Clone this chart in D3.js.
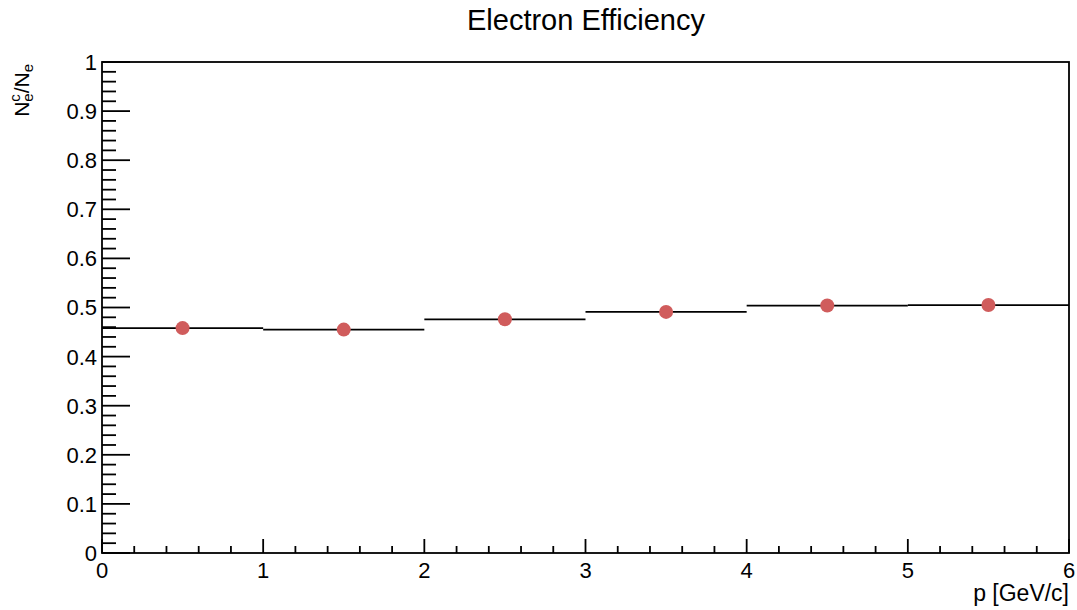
<!DOCTYPE html>
<html>
<head>
<meta charset="utf-8">
<script src="https://cdn.jsdelivr.net/npm/d3@7"></script>
<style>
  html, body { margin: 0; padding: 0; background: #fff; }
  svg { display: block; font-family: "Liberation Sans", Arial, Helvetica, sans-serif; }
</style>
</head>
<body>
<svg id="chart" width="1077" height="610"></svg>
<script>
// Momentum bins (GeV/c) and the electron efficiency measured in each
const binEdges = [0, 1, 2, 3, 4, 5, 6];
const binCenters = [0.5, 1.5, 2.5, 3.5, 4.5, 5.5];
const efficiency = [0.458, 0.455, 0.476, 0.491, 0.504, 0.505];

const xTickValues = [0, 1, 2, 3, 4, 5, 6];
const yTickValues = [0, 0.1, 0.2, 0.3, 0.4, 0.5, 0.6, 0.7, 0.8, 0.9, 1];

const titleText = "Electron Efficiency";
const xTitle = "p [GeV/c]";

const frame = { left: 102, right: 1069, top: 62, bottom: 553 };
const markerColor = "#d05c5c";

const svg = d3.select("#chart");

const x = d3.scaleLinear().domain([0, 6]).range([frame.left, frame.right]);
const y = d3.scaleLinear().domain([0, 1]).range([frame.bottom, frame.top]);

// Minor ticks
const xMinor = d3.range(0, 6.0001, 0.2).filter(v => Math.abs(v - Math.round(v)) > 1e-6);
const yMinor = d3.range(0, 1.0001, 0.02).filter(v => Math.abs(v * 10 - Math.round(v * 10)) > 1e-6);

const axisG = svg.append("g").attr("stroke", "#000").attr("stroke-width", 1.8).attr("fill", "none");

// Frame box
axisG.append("rect")
  .attr("x", frame.left).attr("y", frame.top)
  .attr("width", frame.right - frame.left).attr("height", frame.bottom - frame.top);

// X ticks (pointing up into the plot)
axisG.selectAll(".xmaj").data(xTickValues).join("line")
  .attr("x1", d => x(d)).attr("x2", d => x(d))
  .attr("y1", frame.bottom).attr("y2", frame.bottom - 14);
axisG.selectAll(".xmin").data(xMinor).join("line")
  .attr("x1", d => x(d)).attr("x2", d => x(d))
  .attr("y1", frame.bottom).attr("y2", frame.bottom - 7);

// Y ticks (pointing right into the plot)
axisG.selectAll(".ymaj").data(yTickValues).join("line")
  .attr("x1", frame.left).attr("x2", frame.left + 28)
  .attr("y1", d => y(d)).attr("y2", d => y(d));
axisG.selectAll(".ymin").data(yMinor).join("line")
  .attr("x1", frame.left).attr("x2", frame.left + 14)
  .attr("y1", d => y(d)).attr("y2", d => y(d));

// Tick labels
svg.append("g").selectAll("text").data(xTickValues).join("text")
  .attr("x", d => x(d)).attr("y", 578)
  .attr("text-anchor", "middle")
  .attr("font-size", 22)
  .text(d => d3.format("d")(d));

svg.append("g").selectAll("text").data(yTickValues).join("text")
  .attr("x", 97).attr("y", d => y(d))
  .attr("dy", "0.36em")
  .attr("text-anchor", "end")
  .attr("font-size", 22)
  .text(d => d === 0 ? "0" : d === 1 ? "1" : d3.format(".1f")(d));

// Histogram steps, one segment per bin
svg.append("g").selectAll("line").data(efficiency).join("line")
  .attr("x1", (d, i) => x(binEdges[i]))
  .attr("x2", (d, i) => x(binEdges[i + 1]))
  .attr("y1", d => y(d)).attr("y2", d => y(d))
  .attr("stroke", "#000").attr("stroke-width", 1.8);

// Markers at bin centres
svg.append("g").selectAll("circle").data(efficiency).join("circle")
  .attr("cx", (d, i) => x(binCenters[i]))
  .attr("cy", d => y(d))
  .attr("r", 7)
  .attr("fill", markerColor);

// Title
svg.append("text")
  .attr("x", 586).attr("y", 30)
  .attr("text-anchor", "middle")
  .attr("font-size", 29)
  .text(titleText);

// X axis title
svg.append("text")
  .attr("x", frame.right).attr("y", 601)
  .attr("text-anchor", "end")
  .attr("font-size", 23)
  .text(xTitle);

// Y axis title: N_e^c / N_e
const yt = svg.append("text")
  .attr("transform", `translate(29, ${frame.top + 2}) rotate(-90)`)
  .attr("text-anchor", "end")
  .attr("font-size", 21);
yt.append("tspan").text("N");
yt.append("tspan").attr("font-size", 15).attr("dy", -9).text("c");
yt.append("tspan").attr("font-size", 15).attr("dy", 13).attr("dx", -7.5).text("e");
yt.append("tspan").attr("dy", -4).text("/N");
yt.append("tspan").attr("font-size", 15).attr("dy", 4).text("e");
</script>
</body>
</html>
